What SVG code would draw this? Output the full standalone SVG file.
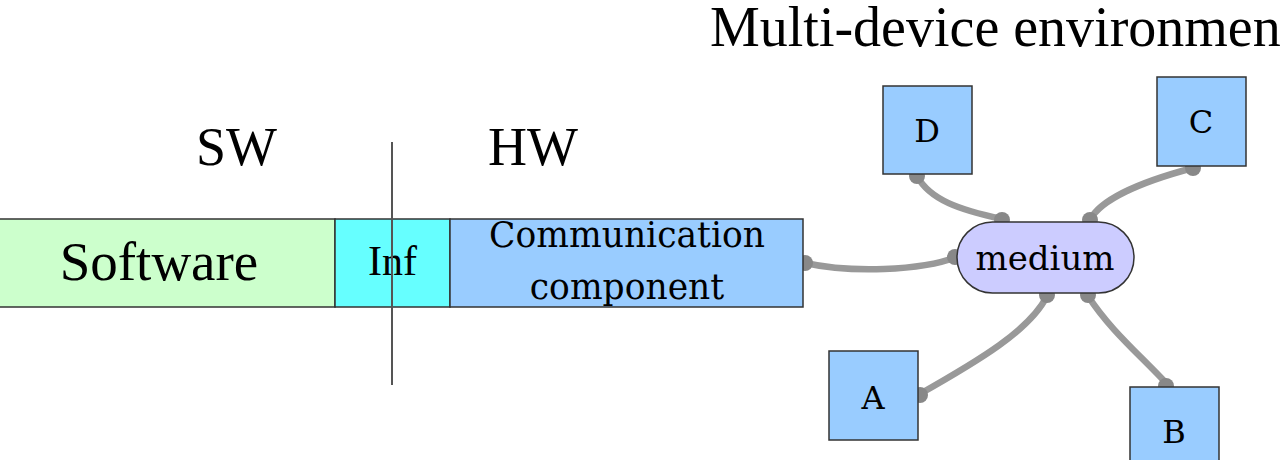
<svg xmlns="http://www.w3.org/2000/svg" width="1281" height="460" viewBox="0 0 1281 460">
<style>
.t{font-family:"Liberation Serif","Times New Roman",serif;fill:#000}
.d{font-family:"DejaVu Serif",serif;fill:#000}
.box{stroke:#333;stroke-width:1.5}
.con{fill:none;stroke:#999;stroke-width:6.5;stroke-linecap:round}
.dot{fill:#888}
</style>
<rect width="1281" height="460" fill="#fff"/>
<text class="t" x="710" y="46" font-size="56">Multi-device environment</text>
<text class="t" x="196" y="165" font-size="54">SW</text>
<text class="t" x="488" y="165" font-size="54">HW</text>
<g id="connectors">
<path class="con" d="M805,263 C850,273 920,271 957,257"/>
<path class="con" d="M917,176 C930,200 960,210 1002,219"/>
<path class="con" d="M1193,168 C1140,182 1100,200 1090,220"/>
<path class="con" d="M918,395 C980,360 1030,330 1047,296"/>
<path class="con" d="M1088,296 C1110,330 1140,355 1167,384"/>
<circle class="dot" cx="805" cy="263" r="8"/>
<circle class="dot" cx="955" cy="257" r="8"/>
<circle class="dot" cx="917" cy="176" r="8"/>
<circle class="dot" cx="1002" cy="220" r="8"/>
<circle class="dot" cx="1193" cy="168" r="8"/>
<circle class="dot" cx="1090" cy="220" r="8"/>
<circle class="dot" cx="920" cy="395" r="8"/>
<circle class="dot" cx="1047" cy="295" r="8"/>
<circle class="dot" cx="1088" cy="295" r="8"/>
<circle class="dot" cx="1166" cy="386" r="8"/>
</g>
<g id="software">
<rect class="box" x="-2" y="219" width="337" height="88" fill="#ccffcc"/>
<text class="t" x="159" y="280" font-size="55" text-anchor="middle">Software</text>
</g>
<g id="inf">
<rect class="box" x="335" y="219" width="115" height="88" fill="#66ffff"/>
<text class="t" x="392.5" y="275" font-size="42" text-anchor="middle">Inf</text>
</g>
<g id="comm">
<rect class="box" x="450" y="219" width="353" height="88" fill="#99ccff"/>
<text class="d" x="627" y="247" font-size="34.5" text-anchor="middle">Communication</text>
<text class="d" x="627" y="299" font-size="34.5" text-anchor="middle">component</text>
</g>
<g id="divider">
<line x1="392" y1="142" x2="392" y2="385" stroke="#555" stroke-width="2"/>
</g>
<g id="medium">
<rect class="box" x="957" y="222" width="177" height="71" rx="35.5" fill="#ccccff"/>
<text class="d" x="1045" y="270" font-size="34" text-anchor="middle">medium</text>
</g>
<g id="D">
<rect class="box" x="883" y="86" width="89" height="88" fill="#99ccff"/>
<text class="d" x="927" y="142" font-size="32" text-anchor="middle">D</text>
</g>
<g id="C">
<rect class="box" x="1157" y="77" width="89" height="89" fill="#99ccff"/>
<text class="d" x="1201" y="133" font-size="32" text-anchor="middle">C</text>
</g>
<g id="A">
<rect class="box" x="829" y="351" width="89" height="89" fill="#99ccff"/>
<text class="d" x="873" y="409" font-size="32" text-anchor="middle">A</text>
</g>
<g id="B">
<rect class="box" x="1130" y="387" width="89" height="89" fill="#99ccff"/>
<text class="d" x="1174" y="443" font-size="32" text-anchor="middle">B</text>
</g>
</svg>
